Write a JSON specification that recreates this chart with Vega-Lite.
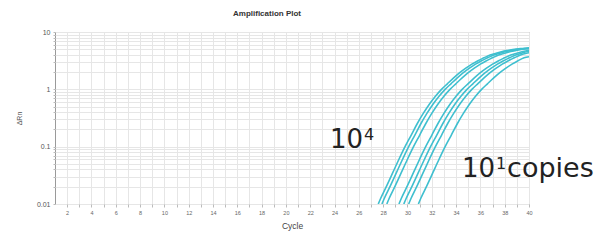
{
  "$schema": "https://vega.github.io/schema/vega-lite/v6.json",
  "autosize": "none",
  "width": 474,
  "height": 172,
  "padding": {"left": 55, "top": 32, "right": 77, "bottom": 38},
  "background": "white",
  "config": {"view": {"stroke": "#9a9a9a", "strokeWidth": 1}},
  "title": {"text": "Amplification Plot", "fontSize": 8, "font": "Liberation Sans", "fontWeight": "bold", "color": "#333", "offset": 10, "dx": -25},
  "datasets": {
    "curves": [
      {"s":"c1","x":27.6,"y":0.01},{"s":"c1","x":27.8,"y":0.0126},{"s":"c1","x":28.3,"y":0.0209},{"s":"c1","x":28.8,"y":0.0355},{"s":"c1","x":29.3,"y":0.0603},{"s":"c1","x":29.8,"y":0.1},{"s":"c1","x":30.3,"y":0.158},{"s":"c1","x":30.8,"y":0.251},{"s":"c1","x":31.3,"y":0.38},{"s":"c1","x":31.8,"y":0.55},{"s":"c1","x":32.3,"y":0.759},{"s":"c1","x":32.8,"y":1.0},{"s":"c1","x":33.3,"y":1.26},{"s":"c1","x":33.8,"y":1.58},{"s":"c1","x":34.3,"y":1.95},{"s":"c1","x":34.8,"y":2.34},{"s":"c1","x":35.3,"y":2.75},{"s":"c1","x":35.8,"y":3.16},{"s":"c1","x":36.3,"y":3.55},{"s":"c1","x":36.8,"y":3.98},{"s":"c1","x":37.3,"y":4.27},{"s":"c1","x":37.8,"y":4.57},{"s":"c1","x":38.3,"y":4.79},{"s":"c1","x":38.8,"y":5.01},{"s":"c1","x":39.3,"y":5.13},{"s":"c1","x":39.8,"y":5.25},{"s":"c1","x":40,"y":5.28},
      {"s":"c2","x":27.9,"y":0.01},{"s":"c2","x":28.1,"y":0.0126},{"s":"c2","x":28.6,"y":0.0209},{"s":"c2","x":29.1,"y":0.0355},{"s":"c2","x":29.6,"y":0.0603},{"s":"c2","x":30.1,"y":0.1},{"s":"c2","x":30.6,"y":0.158},{"s":"c2","x":31.1,"y":0.251},{"s":"c2","x":31.6,"y":0.38},{"s":"c2","x":32.1,"y":0.55},{"s":"c2","x":32.6,"y":0.759},{"s":"c2","x":33.1,"y":1.0},{"s":"c2","x":33.6,"y":1.26},{"s":"c2","x":34.1,"y":1.58},{"s":"c2","x":34.6,"y":1.95},{"s":"c2","x":35.1,"y":2.34},{"s":"c2","x":35.6,"y":2.75},{"s":"c2","x":36.1,"y":3.16},{"s":"c2","x":36.6,"y":3.55},{"s":"c2","x":37.1,"y":3.98},{"s":"c2","x":37.6,"y":4.27},{"s":"c2","x":38.1,"y":4.57},{"s":"c2","x":38.6,"y":4.79},{"s":"c2","x":39.1,"y":5.01},{"s":"c2","x":39.6,"y":5.13},{"s":"c2","x":40,"y":5.2},
      {"s":"c3","x":28.3,"y":0.01},{"s":"c3","x":28.5,"y":0.0126},{"s":"c3","x":29.0,"y":0.0209},{"s":"c3","x":29.5,"y":0.0355},{"s":"c3","x":30.0,"y":0.0603},{"s":"c3","x":30.5,"y":0.1},{"s":"c3","x":31.0,"y":0.158},{"s":"c3","x":31.5,"y":0.251},{"s":"c3","x":32.0,"y":0.38},{"s":"c3","x":32.5,"y":0.55},{"s":"c3","x":33.0,"y":0.759},{"s":"c3","x":33.5,"y":1.0},{"s":"c3","x":34.0,"y":1.26},{"s":"c3","x":34.5,"y":1.58},{"s":"c3","x":35.0,"y":1.95},{"s":"c3","x":35.5,"y":2.34},{"s":"c3","x":36.0,"y":2.75},{"s":"c3","x":36.5,"y":3.16},{"s":"c3","x":37.0,"y":3.55},{"s":"c3","x":37.5,"y":3.98},{"s":"c3","x":38.0,"y":4.27},{"s":"c3","x":38.5,"y":4.57},{"s":"c3","x":39.0,"y":4.79},{"s":"c3","x":39.5,"y":5.01},{"s":"c3","x":40,"y":5.1},
      {"s":"c4","x":29.3,"y":0.01},{"s":"c4","x":29.5,"y":0.0126},{"s":"c4","x":30.0,"y":0.0209},{"s":"c4","x":30.5,"y":0.0355},{"s":"c4","x":31.0,"y":0.0603},{"s":"c4","x":31.5,"y":0.1},{"s":"c4","x":32.0,"y":0.158},{"s":"c4","x":32.5,"y":0.251},{"s":"c4","x":33.0,"y":0.38},{"s":"c4","x":33.5,"y":0.55},{"s":"c4","x":34.0,"y":0.759},{"s":"c4","x":34.5,"y":1.0},{"s":"c4","x":35.0,"y":1.26},{"s":"c4","x":35.5,"y":1.58},{"s":"c4","x":36.0,"y":1.95},{"s":"c4","x":36.5,"y":2.34},{"s":"c4","x":37.0,"y":2.75},{"s":"c4","x":37.5,"y":3.16},{"s":"c4","x":38.0,"y":3.55},{"s":"c4","x":38.5,"y":3.98},{"s":"c4","x":39.0,"y":4.27},{"s":"c4","x":39.5,"y":4.57},{"s":"c4","x":40.0,"y":4.79},
      {"s":"c5","x":29.7,"y":0.01},{"s":"c5","x":29.9,"y":0.0126},{"s":"c5","x":30.4,"y":0.0209},{"s":"c5","x":30.9,"y":0.0355},{"s":"c5","x":31.4,"y":0.0603},{"s":"c5","x":31.9,"y":0.1},{"s":"c5","x":32.4,"y":0.158},{"s":"c5","x":32.9,"y":0.251},{"s":"c5","x":33.4,"y":0.38},{"s":"c5","x":33.9,"y":0.55},{"s":"c5","x":34.4,"y":0.759},{"s":"c5","x":34.9,"y":1.0},{"s":"c5","x":35.4,"y":1.26},{"s":"c5","x":35.9,"y":1.58},{"s":"c5","x":36.4,"y":1.95},{"s":"c5","x":36.9,"y":2.34},{"s":"c5","x":37.4,"y":2.75},{"s":"c5","x":37.9,"y":3.16},{"s":"c5","x":38.4,"y":3.55},{"s":"c5","x":38.9,"y":3.98},{"s":"c5","x":39.4,"y":4.27},{"s":"c5","x":39.9,"y":4.57},{"s":"c5","x":40,"y":4.6},
      {"s":"c6","x":30.1,"y":0.01},{"s":"c6","x":30.3,"y":0.0126},{"s":"c6","x":30.8,"y":0.0209},{"s":"c6","x":31.3,"y":0.0355},{"s":"c6","x":31.8,"y":0.0603},{"s":"c6","x":32.3,"y":0.1},{"s":"c6","x":32.8,"y":0.158},{"s":"c6","x":33.3,"y":0.251},{"s":"c6","x":33.8,"y":0.38},{"s":"c6","x":34.3,"y":0.55},{"s":"c6","x":34.8,"y":0.759},{"s":"c6","x":35.3,"y":1.0},{"s":"c6","x":35.8,"y":1.26},{"s":"c6","x":36.3,"y":1.58},{"s":"c6","x":36.8,"y":1.95},{"s":"c6","x":37.3,"y":2.34},{"s":"c6","x":37.8,"y":2.75},{"s":"c6","x":38.3,"y":3.16},{"s":"c6","x":38.8,"y":3.55},{"s":"c6","x":39.3,"y":3.98},{"s":"c6","x":39.8,"y":4.27},{"s":"c6","x":40,"y":4.35},
      {"s":"c7","x":30.9,"y":0.01},{"s":"c7","x":31.1,"y":0.0126},{"s":"c7","x":31.6,"y":0.0209},{"s":"c7","x":32.1,"y":0.0355},{"s":"c7","x":32.6,"y":0.0603},{"s":"c7","x":33.1,"y":0.1},{"s":"c7","x":33.6,"y":0.158},{"s":"c7","x":34.1,"y":0.251},{"s":"c7","x":34.6,"y":0.38},{"s":"c7","x":35.1,"y":0.55},{"s":"c7","x":35.6,"y":0.759},{"s":"c7","x":36.1,"y":1.0},{"s":"c7","x":36.6,"y":1.26},{"s":"c7","x":37.1,"y":1.58},{"s":"c7","x":37.6,"y":1.95},{"s":"c7","x":38.1,"y":2.34},{"s":"c7","x":38.6,"y":2.75},{"s":"c7","x":39.1,"y":3.16},{"s":"c7","x":39.6,"y":3.55},{"s":"c7","x":40,"y":3.7}
    ],
    "labels": [
      {"x": 23.63, "y": 0.0948, "base": "10", "sup": "4", "suffix": ""},
      {"x": 34.49, "y": 0.0296, "base": "10", "sup": "1", "suffix": "copies"}
    ]
  },
  "encoding": {
    "x": {"field": "x", "type": "quantitative", "scale": {"domain": [1, 40], "nice": false, "zero": false},
      "axis": {"title": "Cycle", "titleFontSize": 8.5, "titleFont": "Liberation Sans", "titleFontWeight": "normal", "titleColor": "#444", "titlePadding": 6,
        "values": [2,3,4,5,6,7,8,9,10,11,12,13,14,15,16,17,18,19,20,21,22,23,24,25,26,27,28,29,30,31,32,33,34,35,36,37,38,39,40],
        "labelExpr": "datum.value % 2 === 0 ? datum.label : ''",
        "labelOverlap": false, "labelFlush": false, "labelBound": false,
        "labelFontSize": 5.5, "labelFont": "Liberation Sans", "labelColor": "#666", "labelPadding": 3,
        "tickSize": 3, "tickColor": "#bbb", "domain": false,
        "grid": true, "gridColor": "#e6e6e6", "gridWidth": 1}},
    "y": {"field": "y", "type": "quantitative", "scale": {"type": "log", "domain": [0.01, 10], "nice": false},
      "axis": {"title": "ΔRn", "titleFontSize": 7, "titleFont": "Liberation Sans", "titleFontWeight": "normal", "titleColor": "#555", "titlePadding": 14,
        "values": [0.01,0.02,0.03,0.04,0.05,0.06,0.07,0.08,0.09,0.1,0.2,0.3,0.4,0.5,0.6,0.7,0.8,0.9,1,2,3,4,5,6,7,8,9,10],
        "format": "~g",
        "labelExpr": "indexof(['10','1','0.1','0.01'], datum.label) >= 0 ? datum.label : ''",
        "labelOverlap": false, "labelFlush": false,
        "labelFontSize": 7, "labelFont": "Liberation Sans", "labelColor": "#555", "labelPadding": 3,
        "tickSize": 2, "tickColor": "#bbb", "domain": false,
        "grid": true, "gridColor": "#e6e6e6", "gridWidth": 1}}
  },
  "layer": [
    {
      "data": {"name": "curves"},
      "mark": {"type": "line", "color": "#3fbfcf", "strokeWidth": 1.6, "interpolate": "monotone", "clip": true},
      "encoding": {"detail": {"field": "s"}}
    },
    {
      "data": {"name": "labels"},
      "mark": {"type": "text", "font": "DejaVu Sans", "fontSize": 26, "align": "left", "baseline": "alphabetic", "color": "#222"},
      "encoding": {"text": {"field": "base"}}
    },
    {
      "data": {"name": "labels"},
      "mark": {"type": "text", "font": "DejaVu Sans", "fontSize": 16, "align": "left", "baseline": "alphabetic", "color": "#222", "dx": 34, "dy": -8},
      "encoding": {"text": {"field": "sup"}}
    },
    {
      "data": {"name": "labels"},
      "mark": {"type": "text", "font": "DejaVu Sans", "fontSize": 27, "align": "left", "baseline": "alphabetic", "color": "#222", "dx": 45},
      "encoding": {"text": {"field": "suffix"}}
    }
  ]
}
